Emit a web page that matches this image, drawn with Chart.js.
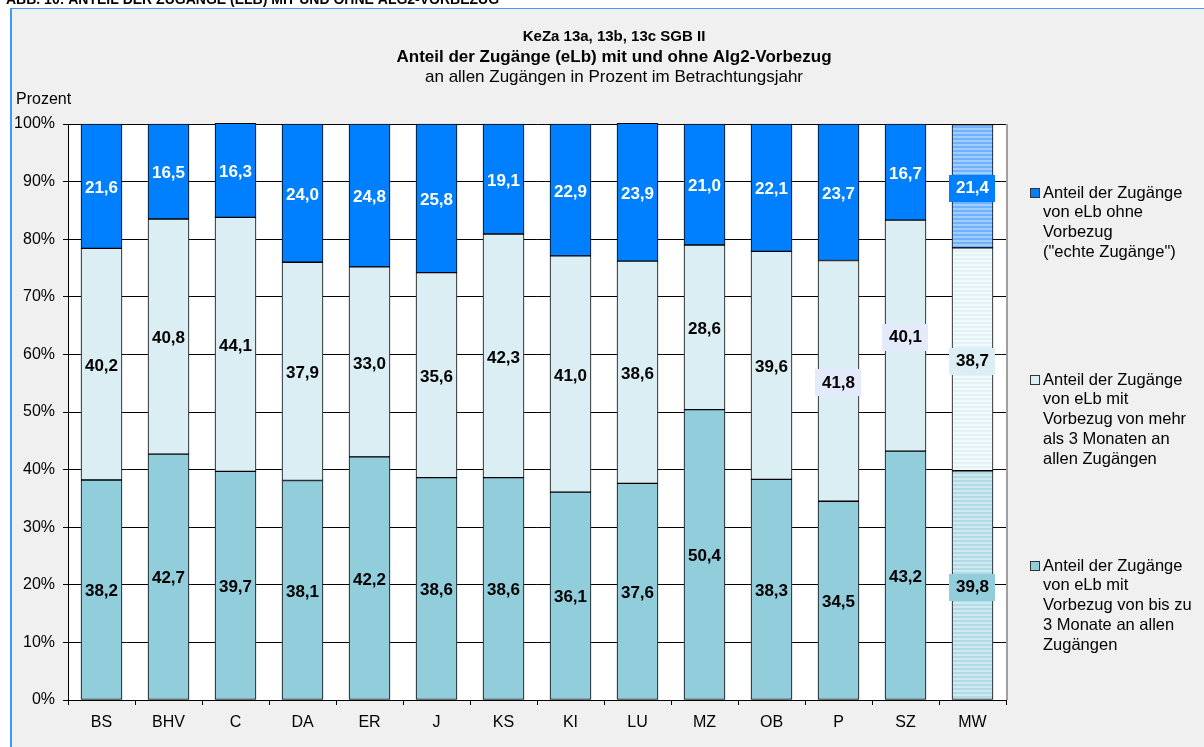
<!DOCTYPE html>
<html lang="de">
<head>
<meta charset="utf-8">
<title>Anteil der Zugänge (eLb) mit und ohne Alg2-Vorbezug</title>
<script src="https://cdn.jsdelivr.net/npm/chart.js@4/dist/chart.umd.min.js"></script>
<style>
  html, body { margin: 0; padding: 0; background: #ffffff; }
  #wrap { position: relative; width: 1204px; height: 747px; }
  canvas { display: block; }
</style>
</head>
<body>
<div id="wrap"><canvas id="c" width="1204" height="747"></canvas></div>
<script>
// Standorte (Kategorien der x-Achse)
const categories = ['BS', 'BHV', 'C', 'DA', 'ER', 'J', 'KS', 'KI', 'LU', 'MZ', 'OB', 'P', 'SZ', 'MW'];

// Anteile in Prozent
const bisDreiMonate     = [38.2, 42.7, 39.7, 38.1, 42.2, 38.6, 38.6, 36.1, 37.6, 50.4, 38.3, 34.5, 43.2, 39.8];
const mehrAlsDreiMonate = [40.2, 40.8, 44.1, 37.9, 33.0, 35.6, 42.3, 41.0, 38.6, 28.6, 39.6, 41.8, 40.1, 38.7];
const ohneVorbezug      = [21.6, 16.5, 16.3, 24.0, 24.8, 25.8, 19.1, 22.9, 23.9, 21.0, 22.1, 23.7, 16.7, 21.4];

// Achsenbeschriftung
const yTicks = [0, 10, 20, 30, 40, 50, 60, 70, 80, 90, 100];

// Legendentexte (zeilenweise)
const legendOhne = ['Anteil der Zugänge', 'von eLb ohne', 'Vorbezug', '("echte Zugänge")'];
const legendMehr = ['Anteil der Zugänge', 'von eLb mit', 'Vorbezug von mehr', 'als 3 Monaten an', 'allen Zugängen'];
const legendBis  = ['Anteil der Zugänge', 'von eLb mit', 'Vorbezug von bis zu', '3 Monate an allen', 'Zugängen'];

const FONT = '"Liberation Sans", Arial, sans-serif';
const COL_BIS = '#92cddc';
const COL_MEHR = '#daeef3';
const COL_OHNE = '#0080ff';

// Streifenmuster für den Mittelwert-Balken
function stripes(a, b) {
  const t = document.createElement('canvas');
  t.width = 4; t.height = 4;
  const g = t.getContext('2d');
  g.fillStyle = a; g.fillRect(0, 0, 4, 2);
  g.fillStyle = b; g.fillRect(0, 2, 4, 2);
  return document.getElementById('c').getContext('2d').createPattern(t, 'repeat');
}
const mwIndex = categories.indexOf('MW');
function fills(base, pattern) {
  return categories.map((c, i) => i === mwIndex ? pattern : base);
}

// Beschriftungen mit Hinterlegung: [Datensatz][Index] -> Farbe
const labelBoxes = {
  0: { [mwIndex]: COL_BIS },
  1: { 11: '#e4eaf9', 12: '#e4eaf9', [mwIndex]: COL_MEHR },
  2: { [mwIndex]: COL_OHNE }
};

const backgroundPlugin = {
  id: 'background',
  beforeDraw(chart) {
    const ctx = chart.ctx;
    const { width, height } = chart;
    ctx.save();
    ctx.fillStyle = '#ffffff';
    ctx.fillRect(0, 0, width, height);
    // Überschrift der Abbildung (oben abgeschnitten)
    ctx.fillStyle = '#000';
    ctx.font = 'bold 14px ' + FONT;
    ctx.textBaseline = 'alphabetic';
    ctx.textAlign = 'left';
    ctx.fillText('ABB. 10: ANTEIL DER ZUGÄNGE (ELB) MIT UND OHNE ALG2-VORBEZUG', 6, 4);
    // Diagrammfläche
    ctx.fillStyle = '#f0f0f0';
    ctx.fillRect(10, 8, width - 10, height - 8);
    ctx.fillStyle = '#3d9bff';
    ctx.fillRect(10, 8, width - 10, 1);
    ctx.fillRect(10, 8, 2, height - 8);
    // Zeichenfläche
    const a = chart.chartArea;
    ctx.fillStyle = '#ffffff';
    ctx.fillRect(a.left, a.top, a.right - a.left, a.bottom - a.top);
    ctx.restore();
  },
  afterDraw(chart) {
    const ctx = chart.ctx;
    const a = chart.chartArea;
    ctx.save();
    ctx.strokeStyle = '#a0a0a0';
    ctx.lineWidth = 2;
    ctx.beginPath();
    ctx.moveTo(a.right + 1, a.top);
    ctx.lineTo(a.right + 1, a.bottom);
    ctx.stroke();

    // Titel
    ctx.fillStyle = '#000';
    ctx.textAlign = 'center';
    ctx.textBaseline = 'middle';
    const cx = 614;
    ctx.font = 'bold 15px ' + FONT;
    ctx.fillText('KeZa 13a, 13b, 13c SGB II', cx, 37);
    ctx.font = 'bold 17px ' + FONT;
    ctx.fillText('Anteil der Zugänge (eLb) mit und ohne Alg2-Vorbezug', cx, 57);
    ctx.font = '17px ' + FONT;
    ctx.fillText('an allen Zugängen in Prozent im Betrachtungsjahr', cx, 77);

    // Achsentitel
    ctx.textAlign = 'left';
    ctx.font = '16px ' + FONT;
    ctx.fillText('Prozent', 16, 100);

    // Legende
    const items = [
      { lines: legendOhne, color: COL_OHNE, y: 193 },
      { lines: legendMehr, color: COL_MEHR, y: 380 },
      { lines: legendBis,  color: COL_BIS,  y: 566 }
    ];
    ctx.font = '16.5px ' + FONT;
    items.forEach(it => {
      ctx.fillStyle = it.color;
      ctx.fillRect(1030.5, it.y - 4.5, 9, 9);
      ctx.strokeStyle = '#333';
      ctx.lineWidth = 1;
      ctx.strokeRect(1030.5, it.y - 4.5, 9, 9);
      ctx.fillStyle = '#000';
      it.lines.forEach((l, k) => ctx.fillText(l, 1043, it.y + k * 19.8));
    });
    ctx.restore();
  }
};

const valueLabelPlugin = {
  id: 'valueLabels',
  afterDatasetsDraw(chart) {
    const ctx = chart.ctx;
    ctx.save();
    ctx.font = 'bold 17px ' + FONT;
    ctx.textAlign = 'center';
    ctx.textBaseline = 'middle';
    chart.data.datasets.forEach((ds, di) => {
      const meta = chart.getDatasetMeta(di);
      meta.data.forEach((el, i) => {
        const v = ds.data[i];
        const txt = v.toFixed(1).replace('.', ',');
        const top = Math.max(el.y, chart.chartArea.top);
        const y = (top + el.base) / 2 + 2;
        const box = labelBoxes[di] && labelBoxes[di][i];
        if (box) {
          const w = ctx.measureText(txt).width + 13;
          ctx.fillStyle = box;
          ctx.fillRect(Math.round(el.x - w / 2), Math.round(y - 13.5), Math.round(w), 27);
        }
        ctx.fillStyle = di === 2 ? '#ffffff' : '#000000';
        ctx.fillText(txt, el.x, y);
      });
    });
    ctx.restore();
  }
};

const barShape = { borderColor: '#000', borderWidth: 1, borderSkipped: false, barThickness: 41, categoryPercentage: 1.0, clip: 2 };

new Chart(document.getElementById('c'), {
  type: 'bar',
  data: {
    labels: categories,
    datasets: [
      Object.assign({ label: legendBis.join(' '), data: bisDreiMonate,
        backgroundColor: fills(COL_BIS, stripes('#b2dbe8', '#cfe9f1')) }, barShape),
      Object.assign({ label: legendMehr.join(' '), data: mehrAlsDreiMonate,
        backgroundColor: fills(COL_MEHR, stripes('#f3fafc', '#e3f2f6')) }, barShape),
      Object.assign({ label: legendOhne.join(' '), data: ohneVorbezug,
        backgroundColor: fills(COL_OHNE, stripes('#a2cdff', '#6fb2ff')) }, barShape)
    ]
  },
  options: {
    responsive: false,
    animation: false,
    events: [],
    layout: { padding: { top: 124, right: 198, left: 0, bottom: 0 } },
    plugins: { legend: { display: false }, title: { display: false }, tooltip: { enabled: false } },
    scales: {
      x: {
        stacked: true,
        afterFit(s) { s.height = 47; },
        grid: { display: true, drawOnChartArea: false, offset: true, tickLength: 5, color: '#000' },
        border: { color: '#000', width: 1 },
        ticks: { color: '#000', font: { family: FONT, size: 16 }, padding: 8, maxRotation: 0 }
      },
      y: {
        stacked: true,
        min: 0,
        max: 100,
        afterFit(s) { s.width = 68; },
        afterBuildTicks(s) { s.ticks = yTicks.map(v => ({ value: v })); },
        grid: { color: '#000', tickLength: 5 },
        border: { color: '#000', width: 1 },
        ticks: { color: '#000', font: { family: FONT, size: 16 }, padding: 8, callback: v => v + '%' }
      }
    }
  },
  plugins: [backgroundPlugin, valueLabelPlugin]
});
</script>
</body>
</html>
